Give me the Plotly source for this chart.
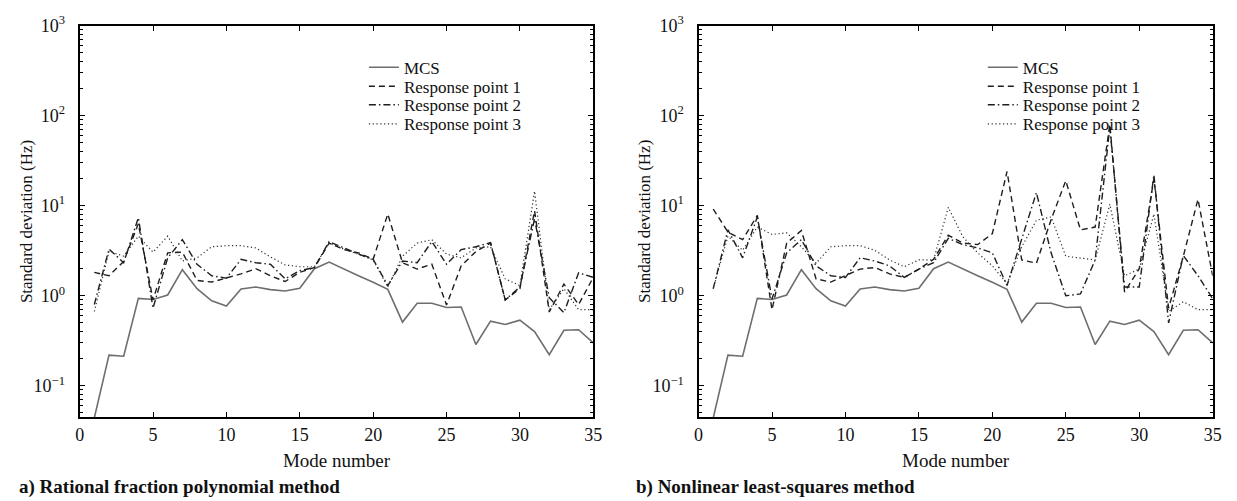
import plotly.graph_objects as go

# Mode numbers 1..35
modes = list(range(1, 36))

# Monte Carlo simulation reference (same in both panels)
mcs = [0.044, 0.219, 0.213, 0.935, 0.91, 1.02, 1.95, 1.2, 0.88, 0.77,
       1.19, 1.25, 1.17, 1.13, 1.21, 2.0, 2.37, 2.01, 1.67, 1.41,
       1.18, 0.51, 0.826, 0.826, 0.74, 0.75, 0.288, 0.523, 0.48, 0.536,
       0.40, 0.222, 0.414, 0.42, 0.30]

# a) Rational fraction polynomial method
rfp_rp1 = [1.82, 1.67, 2.4, 6.3, 0.9, 3.0, 3.05, 1.48, 1.42, 1.57,
           1.75, 2.0, 1.67, 1.44, 1.82, 2.06, 3.85, 3.26, 3.0, 2.54,
           8.1, 2.33, 1.98, 2.24, 0.79, 2.15, 3.1, 3.85, 0.9, 1.2,
           8.8, 0.66, 1.35, 0.8, 1.6]
rfp_rp2 = [0.8, 3.3, 2.33, 7.35, 0.73, 2.64, 4.2, 2.24, 1.67, 1.57,
           2.54, 2.33, 2.24, 1.54, 1.9, 2.06, 4.0, 3.4, 2.9, 2.54,
           1.3, 2.43, 2.33, 4.0, 2.24, 3.26, 3.5, 3.9, 0.9, 1.25,
           7.2, 0.95, 0.65, 1.8, 1.6]
rfp_rp3 = [0.67, 3.1, 2.76, 4.6, 3.05, 4.6, 2.43, 2.64, 3.5, 3.6,
           3.6, 3.4, 2.7, 2.2, 2.1, 2.1, 3.85, 3.3, 2.9, 2.5,
           1.25, 2.75, 3.85, 4.2, 2.9, 2.64, 3.4, 3.5, 1.54, 1.3,
           14.5, 0.7, 1.2, 0.7, 0.7]

# b) Nonlinear least-squares method
nls_rp1 = [9.2, 5.1, 4.2, 7.8, 0.7, 3.85, 5.3, 1.54, 1.42, 1.67,
           1.98, 2.06, 1.75, 1.6, 1.98, 2.54, 4.7, 3.85, 3.7, 4.9,
           24.0, 2.5, 2.3, 7.0, 19.0, 5.4, 5.8, 80.0, 1.1, 2.0,
           20.0, 0.73, 2.75, 11.8, 1.67]
nls_rp2 = [1.2, 5.4, 2.64, 7.5, 0.92, 3.0, 4.2, 2.15, 1.67, 1.6,
           2.64, 2.43, 2.15, 1.6, 1.98, 2.33, 4.35, 3.7, 3.4, 3.0,
           1.3, 4.2, 14.0, 3.0, 1.0, 1.05, 2.5, 75.0, 1.25, 1.25,
           22.0, 0.5, 2.8, 1.67, 0.93]
nls_rp3 = [1.2, 4.6, 3.2, 5.8, 4.8, 5.0, 3.5, 2.3, 3.5, 3.6,
           3.6, 3.2, 2.5, 2.1, 2.5, 2.5, 9.6, 4.5, 3.0, 2.15,
           1.36, 3.5, 6.9, 7.5, 2.75, 2.64, 2.5, 10.4, 1.67, 1.98,
           8.1, 0.67, 0.86, 0.7, 0.7]

series_names = ["MCS", "Response point 1", "Response point 2", "Response point 3"]
x_ticks = [0, 5, 10, 15, 20, 25, 30, 35]
y_ticks = [0.1, 1, 10, 100, 1000]
y_exponents = ["\u22121", "0", "1", "2", "3"]
x_title = "Mode number"
y_title = "Standard deviation (Hz)"
captions = ["a) Rational fraction polynomial method",
            "b) Nonlinear least-squares method"]

FONT = "Liberation Serif, Times New Roman, serif"
W, H = 1237, 501

# power-of-ten labels, padded so they sit clear of the inward ticks
y_ticktext = [f"10<sup>{e}</sup>\u2002" for e in y_exponents]

styles = [
    dict(color="#6e6e6e", width=1.6, dash="solid"),
    dict(color="#1e1e1e", width=1.4, dash="6px,4px"),
    dict(color="#1e1e1e", width=1.4, dash="7px,3px,1.5px,3px"),
    dict(color="#2e2e2e", width=1.2, dash="1.2px,2.6px"),
]

panels = [
    dict(series=[mcs, rfp_rp1, rfp_rp2, rfp_rp3], xa="x", ya="y",
         x0=75.5, x1=595.0, ytitle_x=22, caption_x=12),
    dict(series=[mcs, nls_rp1, nls_rp2, nls_rp3], xa="x2", ya="y2",
         x0=701.5, x1=1221.5, ytitle_x=647, caption_x=636),
]

fig = go.Figure()

legend_rows = [57, 76.5, 95.5, 115]
legend_layout = {}
k = 0
for p_idx, p in enumerate(panels):
    for s_idx, vals in enumerate(p["series"]):
        k += 1
        lname = "legend" if k == 1 else f"legend{k}"
        fig.add_trace(go.Scatter(
            x=modes, y=vals, mode="lines", name=series_names[s_idx],
            line=styles[s_idx], xaxis=p["xa"], yaxis=p["ya"],
            legend=lname, showlegend=True, hoverinfo="skip",
        ))
        lx = p["x0"] + 287.5
        legend_layout[lname] = dict(
            x=lx / W, y=1 - legend_rows[s_idx] / H,
            xanchor="left", yanchor="middle",
            bgcolor="rgba(0,0,0,0)", borderwidth=0,
            font=dict(family=FONT, size=17, color="#111"),
            itemwidth=30,
        )

y_bot, y_top = 415.0, 14.0
dom_y = [1 - y_bot / H, 1 - y_top / H]

axis_common = dict(
    showline=True, linewidth=2.2, linecolor="black", mirror="ticks",
    ticks="inside", tickcolor="black", ticklen=5, tickwidth=1.2,
    showgrid=False, zeroline=False,
    tickfont=dict(family=FONT, size=18, color="#111"),
)

layout = dict(
    width=W, height=H,
    margin=dict(l=0, r=0, t=0, b=0),
    paper_bgcolor="white", plot_bgcolor="white",
    font=dict(family=FONT, color="#111"),
)

annotations = []
for p_idx, p in enumerate(panels):
    sfx = "" if p_idx == 0 else "2"
    layout[f"xaxis{sfx}"] = dict(
        axis_common, domain=[p["x0"] / W, p["x1"] / W], range=[0, 35],
        tickmode="array", tickvals=x_ticks,
        title=dict(text=x_title, standoff=10,
                   font=dict(family=FONT, size=19, color="#111")),
        anchor=f"y{sfx}",
    )
    layout[f"yaxis{sfx}"] = dict(
        axis_common, domain=dom_y, type="log", range=[-1.347, 3],
        tickmode="array", tickvals=y_ticks, ticktext=y_ticktext,
        minor=dict(ticks="inside", ticklen=3, tickcolor="black",
                   tickwidth=1, dtick="D1", showgrid=False),
        anchor=f"x{sfx}",
    )
    # vertical axis title
    annotations.append(dict(
        text=y_title, x=p["ytitle_x"] / W, y=1 - (y_top + y_bot) / 2 / H,
        xref="paper", yref="paper", xanchor="center", yanchor="middle",
        textangle=-90, showarrow=False,
        font=dict(family=FONT, size=17, color="#111"),
    ))
    # panel caption
    annotations.append(dict(
        text=f"<b>{captions[p_idx]}</b>", x=p["caption_x"] / W, y=1 - 487 / H,
        xref="paper", yref="paper", xanchor="left", yanchor="middle",
        showarrow=False, font=dict(family=FONT, size=19, color="#111"),
    ))

layout.update(legend_layout)
layout["annotations"] = annotations

fig.update_layout(**layout)
fig.write_html("out.html")
